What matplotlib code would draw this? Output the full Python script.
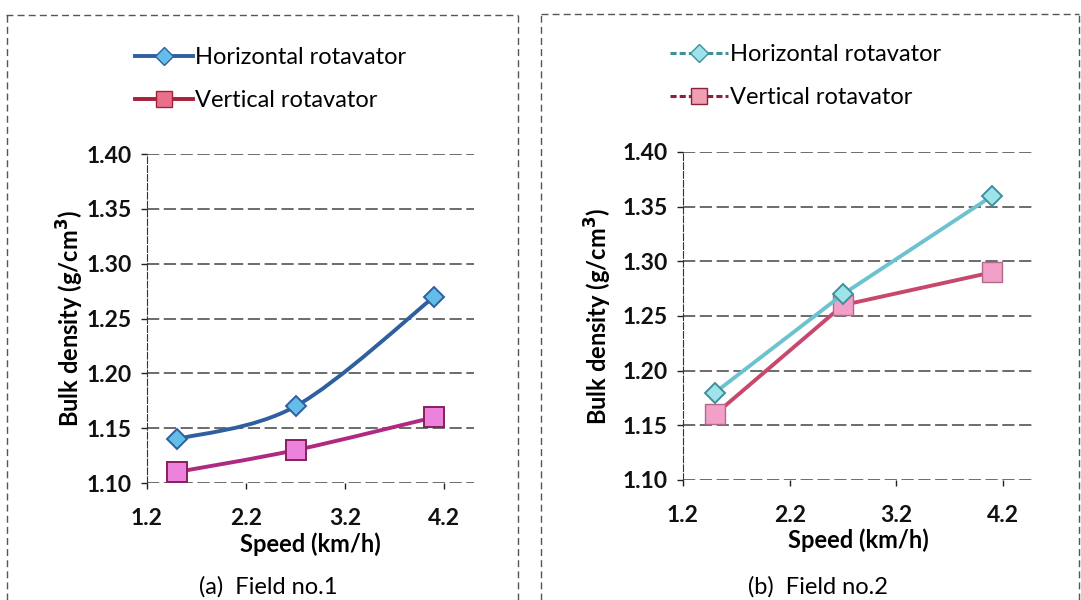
import numpy as np
import matplotlib
matplotlib.use("Agg")
import matplotlib.pyplot as plt
from matplotlib.path import Path
from matplotlib.patches import PathPatch
from matplotlib.lines import Line2D

plt.rcParams['font.family'] = ['Lato', 'DejaVu Sans']

# forward speed (km/h) and bulk density (g/cm3)
speed = [1.5, 2.7, 4.1]
field1_horizontal = [1.14, 1.17, 1.27]
field1_vertical = [1.11, 1.13, 1.16]
field2_horizontal = [1.18, 1.27, 1.36]
field2_vertical = [1.16, 1.26, 1.29]

x_ticks = [1.2, 2.2, 3.2, 4.2]
y_ticks = [1.10, 1.15, 1.20, 1.25, 1.30, 1.35, 1.40]
series_names = ["Horizontal rotavator", "Vertical rotavator"]
captions = ["(a)  Field no.1", "(b)  Field no.2"]


def smooth_path(x, y):
    # Bezier path through the points, same idea as a "smoothed line" in a spreadsheet
    pts = np.column_stack([x, y]).astype(float)
    verts = [pts[0]]
    codes = [Path.MOVETO]
    n = len(pts)
    for i in range(n - 1):
        p_prev = pts[i - 1] if i > 0 else pts[i]
        p_next = pts[i + 2] if i + 2 < n else pts[i + 1]
        c1 = pts[i] + (pts[i + 1] - p_prev) / 6.0
        c2 = pts[i + 1] - (p_next - pts[i]) / 6.0
        verts += [c1, c2, pts[i + 1]]
        codes += [Path.CURVE4] * 3
    return Path(verts, codes)


W, H = 1081, 600
fig = plt.figure(figsize=(W / 100, H / 100), dpi=100)

ax1 = fig.add_axes([147 / W, 1 - 483 / H, 327 / W, 329 / H])
ax2 = fig.add_axes([683 / W, 1 - 480 / H, 350 / W, 328 / H])

# panel (a): smoothed lines
h1_col, h1_face = '#2f5fa0', '#63bde8'
v1_col, v1_face = '#b0287f', '#ec82dc'
ax1.add_patch(PathPatch(smooth_path(speed, field1_horizontal), fill=False,
                        edgecolor=h1_col, lw=2.8, zorder=3))
ax1.add_patch(PathPatch(smooth_path(speed, field1_vertical), fill=False,
                        edgecolor=v1_col, lw=2.8, zorder=3))
ax1.plot(speed, field1_horizontal, ls='none', marker='D', ms=10,
         mfc=h1_face, mec=h1_col, mew=1.4, zorder=4)
ax1.plot(speed, field1_vertical, ls='none', marker='s', ms=14,
         mfc=v1_face, mec='#8a1f5e', mew=1.4, zorder=4)
leg1 = [Line2D([], [], color=h1_col, lw=2.8, marker='D', ms=9, mfc=h1_face, mec=h1_col),
        Line2D([], [], color='#a8203a', lw=2.8, marker='s', ms=12, mfc='#e8708a', mec='#a8203a')]

# panel (b): straight lines
h2_col, h2_face = '#6cc3cf', '#9fe3ea'
v2_col, v2_face = '#c8476c', '#f2a0c8'
ax2.plot(speed, field2_horizontal, color=h2_col, lw=2.8, marker='D', ms=10,
         mfc=h2_face, mec='#3f8f9c', mew=1.4, zorder=4)
ax2.plot(speed, field2_vertical, color=v2_col, lw=2.8, marker='s', ms=14,
         mfc=v2_face, mec='#b06a8a', mew=1.0, zorder=3)
leg2 = [Line2D([], [], color='#3f8f9c', lw=2.2, ls=(0, (2, 1)), marker='D', ms=9,
               mfc=h2_face, mec='#3f8f9c'),
        Line2D([], [], color='#8c2040', lw=2.2, ls=(0, (2, 1)), marker='s', ms=12,
               mfc='#eea0b0', mec='#8c2040')]

panels = [(ax1, 4.5, leg1, (135 / W, 1 - 79 / H), -0.235),
          (ax2, 4.48, leg2, (670 / W, 1 - 76 / H), -0.243)]
for ax, xmax, handles, anchor, ylab_x in panels:
    ax.set_xlim(1.2, xmax)
    ax.set_ylim(1.10, 1.40)
    ax.set_xticks(x_ticks)
    ax.set_xticklabels([f"{v:.1f}" for v in x_ticks])
    ax.set_yticks(y_ticks)
    ax.set_yticklabels([f"{v:.2f}" for v in y_ticks])
    ax.tick_params(axis='both', labelsize=16.5, colors='#222222', length=4, width=1)
    ax.tick_params(axis='x', pad=14)
    ax.tick_params(axis='y', pad=7)
    for lab in ax.get_xticklabels() + ax.get_yticklabels():
        lab.set_fontweight('bold')
        lab.set_color('#111111')
    for side in ['top', 'right', 'bottom']:
        ax.spines[side].set_visible(False)
    ax.spines['left'].set_color('#333333')
    ax.spines['left'].set_linestyle((0, (6, 2)))
    ax.grid(axis='y', color='#444444', lw=1.1, ls=(0, (8, 3)))
    ax.set_axisbelow(True)
    ax.set_xlabel("Speed (km/h)", fontsize=17, fontweight='bold')
    ax.xaxis.set_label_coords(0.5, -0.185)
    ax.xaxis.label.set_verticalalignment('center')
    ax.set_ylabel("Bulk density (g/cm$^\\mathbf{3}$)", fontsize=17, fontweight='bold')
    ax.yaxis.set_label_coords(ylab_x, 0.5)
    ax.yaxis.label.set_verticalalignment('center')
    fig.legend(handles, series_names, loc='center left', bbox_to_anchor=anchor,
               frameon=False, fontsize=17, handlelength=2.45, handletextpad=0.1,
               labelspacing=0.95, borderpad=0, borderaxespad=0)

fig.text(268 / W, 1 - 587 / H, captions[0], ha='center', va='center', fontsize=17)
fig.text(818 / W, 1 - 587 / H, captions[1], ha='center', va='center', fontsize=17)

# table borders around the two panels
border = dict(color='#555555', lw=1.0, ls=(0, (5, 3)), transform=fig.transFigure)
fig.add_artist(Line2D([6 / W, 518 / W], [1 - 15 / H] * 2, **border))
fig.add_artist(Line2D([7 / W] * 2, [0, 1 - 15 / H], **border))
fig.add_artist(Line2D([518 / W] * 2, [0, 1 - 15 / H], **border))
fig.add_artist(Line2D([541 / W, 1079 / W], [1 - 14 / H] * 2, **border))
fig.add_artist(Line2D([541 / W] * 2, [0, 1 - 14 / H], **border))
fig.add_artist(Line2D([1079 / W] * 2, [0, 1 - 14 / H], **border))

fig.savefig("out.png", dpi=100)
